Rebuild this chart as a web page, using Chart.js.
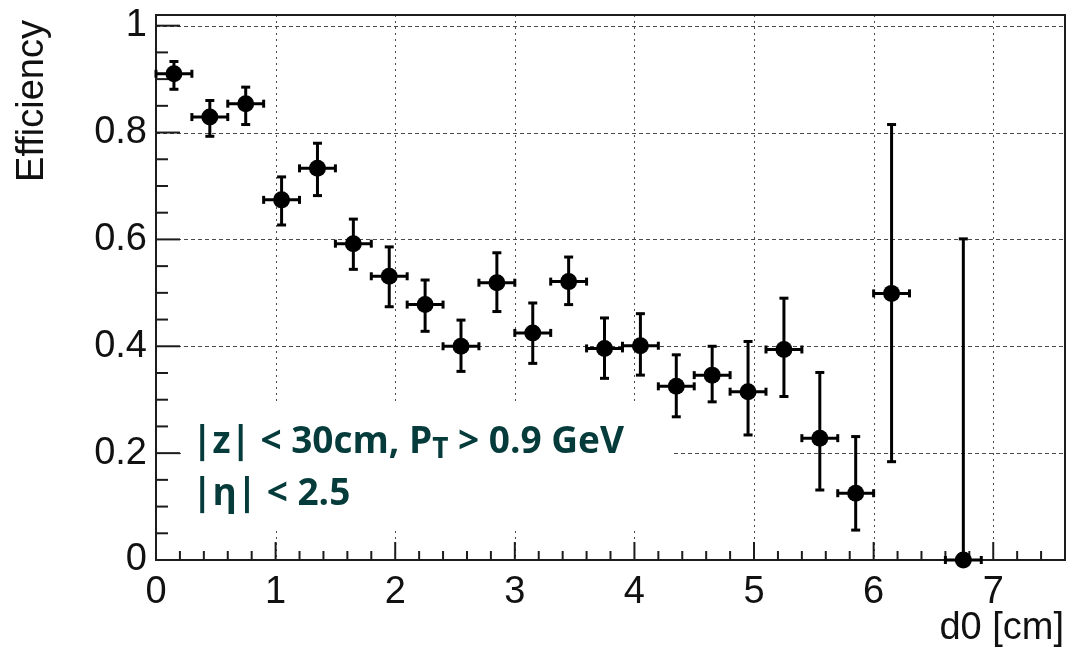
<!DOCTYPE html>
<html><head><meta charset="utf-8">
<script src="https://cdn.jsdelivr.net/npm/chart.js@4"></script>
<style>html,body{margin:0;padding:0;background:#fff}#wrap{width:1066px;height:648px}</style>
</head><body><div id="wrap"><canvas id="c" width="1066" height="648"></canvas></div>
<script>
// ---- data ----
const d0 = [0.15,0.45,0.75,1.05,1.35,1.65,1.95,2.25,2.55,2.85,3.15,3.45,3.75,4.05,4.35,4.65,4.95,5.25,5.55,5.85,6.15,6.75];
const efficiency = [0.910,0.829,0.854,0.674,0.733,0.592,0.531,0.478,0.400,0.519,0.425,0.521,0.396,0.401,0.325,0.346,0.315,0.394,0.228,0.125,0.499,0.000];
const errUp  = [0.023,0.031,0.031,0.043,0.047,0.046,0.055,0.046,0.049,0.056,0.056,0.046,0.057,0.060,0.059,0.054,0.094,0.096,0.123,0.106,0.316,0.601];
const errLow = [0.029,0.036,0.039,0.047,0.051,0.048,0.057,0.050,0.047,0.054,0.057,0.043,0.056,0.055,0.057,0.050,0.081,0.088,0.097,0.069,0.315,0.000];
const binHalfWidth = [0.15,0.15,0.15,0.15,0.15,0.15,0.15,0.15,0.15,0.15,0.15,0.15,0.15,0.15,0.15,0.15,0.15,0.15,0.15,0.15,0.15,0.15];
const xTickValues = [0,1,2,3,4,5,6,7];
const xTickLabels = ['0','1','2','3','4','5','6','7'];
const yTickValues = [0,0.2,0.4,0.6,0.8,1.0];
const yTickLabels = ['0','0.2','0.4','0.6','0.8','1'];
const xTitle = 'd0 [cm]';
const yTitle = 'Efficiency';
const noteLine1 = ['|z| < 30cm, P', 'T', ' > 0.9 GeV'];
const noteLine2 = '|η| < 2.5';

const points = d0.map((x, i) => ({x, y: efficiency[i]}));
const AXIS_FONT = '"Liberation Sans", Arial, Helvetica, sans-serif';

function zeroPad(s) { s.paddingTop = 0; s.paddingBottom = 0; s.paddingLeft = 0; s.paddingRight = 0; }

const rootStyle = {
  id: 'rootStyle',
  beforeDatasetsDraw(chart) {
    const {ctx, chartArea: a, scales: {x, y}} = chart;
    const line = (x1, y1, x2, y2) => { ctx.beginPath(); ctx.moveTo(x1, y1); ctx.lineTo(x2, y2); ctx.stroke(); };
    ctx.save();
    // dotted grid
    ctx.strokeStyle = '#4a4a4a'; ctx.lineWidth = 1;
    ctx.setLineDash([2, 4]);
    x.ticks.forEach(t => {
      if (t.value <= x.min) return;
      const px = Math.round(x.getPixelForValue(t.value)) + 0.5;
      line(px, a.top, px, a.bottom);
    });
    ctx.setLineDash([4, 3]);
    y.ticks.forEach(t => {
      if (t.value <= y.min) return;
      const py = Math.round(y.getPixelForValue(t.value)) + 0.5;
      line(a.left, py, a.right, py);
    });
    ctx.setLineDash([]);

    // annotation panel (white box over the grid)
    ctx.fillStyle = '#fff';
    ctx.fillRect(184, 403, 487, 125);
    ctx.fillStyle = '#053b3a';
    ctx.textBaseline = 'alphabetic'; ctx.textAlign = 'left';
    const big = 'bold 37px "Open Sans", "Noto Sans", sans-serif';
    const small = 'bold 28px "Open Sans", "Noto Sans", sans-serif';
    let tx = 192; const b1 = 453, b2 = 505;
    ctx.font = big; ctx.fillText(noteLine1[0], tx, b1); tx += ctx.measureText(noteLine1[0]).width;
    ctx.font = small; ctx.fillText(noteLine1[1], tx, b1 + 5); tx += ctx.measureText(noteLine1[1]).width;
    ctx.font = big; ctx.fillText(noteLine1[2], tx, b1);
    ctx.fillText(noteLine2, 192, b2);

    // frame
    ctx.strokeStyle = '#1c1c1c'; ctx.lineWidth = 2;
    ctx.strokeRect(a.left, a.top, a.right - a.left, a.bottom - a.top);

    // inward ticks (ROOT style)
    const xMajor = 1, xDiv = 5, yMajor = 0.2, yDiv = 4;
    for (let k = 0; x.min + k * xMajor / xDiv <= x.max + 1e-9; k++) {
      const v = x.min + k * xMajor / xDiv;
      const px = x.getPixelForValue(v);
      const len = (k % xDiv === 0) ? 18 : 9;
      line(px, a.bottom, px, a.bottom - len);
    }
    for (let k = 0; y.min + k * yMajor / yDiv <= y.max + 1e-9; k++) {
      const v = y.min + k * yMajor / yDiv;
      const py = y.getPixelForValue(v);
      const len = (k % yDiv === 0) ? 24 : 12;
      line(a.left, py, a.left + len, py);
    }

    // error bars
    ctx.strokeStyle = '#000'; ctx.lineWidth = 3;
    d0.forEach((xv, i) => {
      const px = x.getPixelForValue(xv), py = y.getPixelForValue(efficiency[i]);
      const pl = x.getPixelForValue(xv - binHalfWidth[i]), pr = x.getPixelForValue(xv + binHalfWidth[i]);
      const pt = y.getPixelForValue(efficiency[i] + errUp[i]), pb = y.getPixelForValue(efficiency[i] - errLow[i]);
      line(pl, py, pr, py);
      line(pl, py - 4, pl, py + 4); line(pr, py - 4, pr, py + 4);
      if (errUp[i] > 0) { line(px, py, px, pt); line(px - 4.5, pt, px + 4.5, pt); }
      if (errLow[i] > 0) { line(px, py, px, pb); line(px - 4.5, pb, px + 4.5, pb); }
    });
    ctx.restore();
  },
  afterDraw(chart) {
    const {ctx} = chart;
    ctx.save();
    ctx.fillStyle = '#111';
    ctx.font = '38px ' + AXIS_FONT;
    ctx.textBaseline = 'alphabetic';
    ctx.textAlign = 'right';
    ctx.fillText(xTitle, 1064, 639);
    ctx.translate(43, 20); ctx.rotate(-Math.PI / 2);
    ctx.fillText(yTitle, 0, 0);
    ctx.restore();
  }
};

new Chart(document.getElementById('c'), {
  type: 'scatter',
  data: { datasets: [{
    data: points,
    pointRadius: 8.5, pointHoverRadius: 8.5,
    pointBackgroundColor: '#000', pointBorderWidth: 0, pointBorderColor: '#000',
    showLine: false, clip: false
  }]},
  options: {
    responsive: false, devicePixelRatio: 1, animation: false,
    events: [],
    layout: { autoPadding: false, padding: { left: 0, right: 1, top: 15, bottom: 0 } },
    plugins: { legend: { display: false }, tooltip: { enabled: false } },
    scales: {
      x: {
        type: 'linear', min: 0, max: 7.6,
        afterBuildTicks: s => { s.ticks = xTickValues.map(v => ({value: v})); },
        afterFit: s => { s.height = 88; zeroPad(s); },
        grid: { display: false, drawTicks: false }, border: { display: false },
        ticks: { autoSkip: false, maxRotation: 0, padding: 10, color: '#111',
          font: { family: AXIS_FONT, size: 38 },
          callback: (v) => { const i = xTickValues.indexOf(v); return i >= 0 ? xTickLabels[i] : ''; } }
      },
      y: {
        type: 'linear', min: 0, max: 1.02,
        afterBuildTicks: s => { s.ticks = yTickValues.map(v => ({value: v})); },
        afterFit: s => { s.width = 156; zeroPad(s); },
        grid: { display: false, drawTicks: false }, border: { display: false },
        ticks: { autoSkip: false, padding: 9, color: '#111',
          font: { family: AXIS_FONT, size: 38 },
          callback: (v) => { const i = yTickValues.findIndex(t => Math.abs(t - v) < 1e-9); return i >= 0 ? yTickLabels[i] : ''; } }
      }
    }
  },
  plugins: [rootStyle]
});
</script></body></html>
